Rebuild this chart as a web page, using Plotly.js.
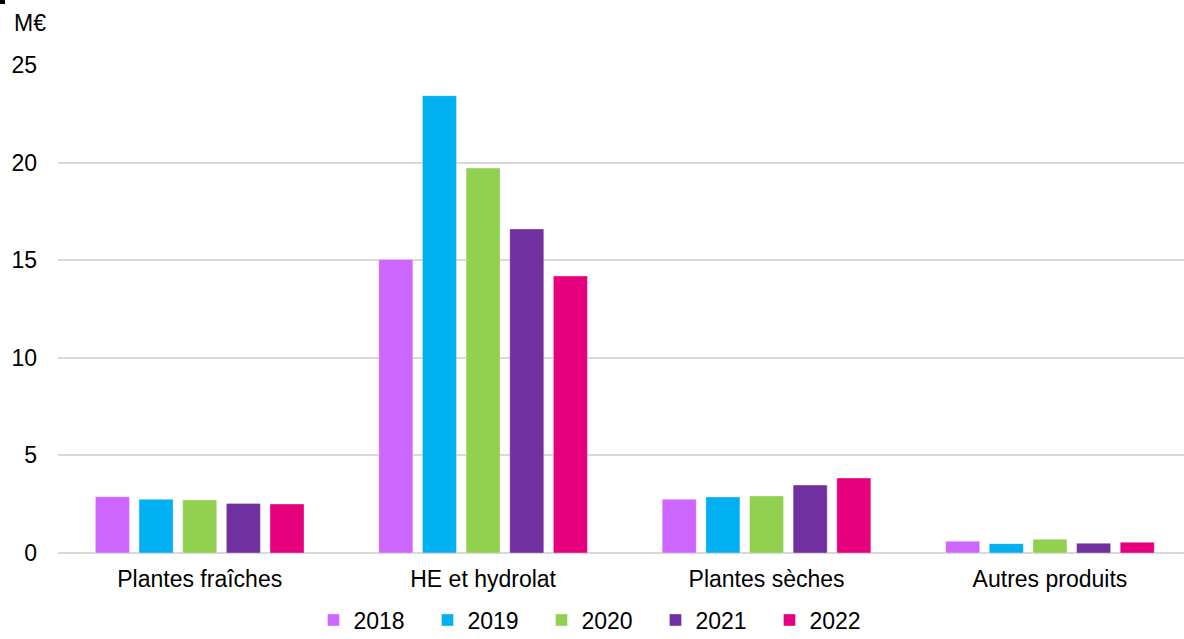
<!DOCTYPE html>
<html>
<head>
<meta charset="utf-8">
<script src="https://cdn.plot.ly/plotly-3.0.1.min.js"></script>
<style>html,body{margin:0;padding:0;background:#fff;}#chart{width:1184px;height:639px;}</style>
</head>
<body>
<div id="chart"></div>
<script>
const categories = ["Plantes fraîches", "HE et hydrolat", "Plantes sèches", "Autres produits"];
const years = ["2018", "2019", "2020", "2021", "2022"];
const v2018 = [2.88, 15.04, 2.75, 0.60];
const v2019 = [2.75, 23.43, 2.87, 0.48];
const v2020 = [2.72, 19.72, 2.92, 0.70];
const v2021 = [2.54, 16.60, 3.48, 0.50];
const v2022 = [2.51, 14.19, 3.84, 0.55];
const yTicks = [0, 5, 10, 15, 20, 25];
const unitLabel = "M€";

const seriesValues = [v2018, v2019, v2020, v2021, v2022];
const colors = ["#CC66FF", "#00B0F0", "#92D050", "#7030A0", "#E6007E"];

const traces = years.map((y, i) => ({
  type: "bar",
  name: y,
  x: categories,
  y: seriesValues[i],
  marker: {color: colors[i], line: {color: "rgba(255,255,255,0.35)", width: 1}},
  hoverinfo: "x+y+name"
}));

const font = {family: "Liberation Sans, Arial, sans-serif", size: 23, color: "#000"};

const layout = {
  width: 1184, height: 639,
  margin: {l: 58, r: 0, t: 65, b: 86},
  paper_bgcolor: "#fff", plot_bgcolor: "#fff",
  font: font,
  barmode: "group",
  bargap: 0.23,
  bargroupgap: 0.22,
  showlegend: true,
  legend: {
    orientation: "h",
    x: 0.48, xanchor: "center",
    yref: "container",
    y: 1 - 620 / 639, yanchor: "middle",
    font: font,
    entrywidth: 69,
    entrywidthmode: "pixels",
    traceorder: "normal",
    bgcolor: "rgba(0,0,0,0)"
  },
  xaxis: {
    type: "category",
    range: [-0.5, 3.473],
    showgrid: false,
    showline: false,
    ticks: "",
    tickfont: font,
    ticklabelstandoff: 10,
    fixedrange: true
  },
  yaxis: {
    range: [0, 25],
    tickvals: yTicks,
    ticktext: yTicks.map(String),
    showgrid: true,
    gridcolor: "#d9d9d9",
    gridwidth: 2,
    zeroline: true,
    zerolinecolor: "#d9d9d9",
    zerolinewidth: 2.5,
    showline: false,
    ticks: "",
    tickfont: font,
    ticklabelstandoff: 20,
    fixedrange: true
  },
  annotations: [{
    text: unitLabel,
    xref: "paper", yref: "paper",
    x: -46 / 1126, xanchor: "left",
    y: (553 - 23) / 488, yanchor: "middle",
    showarrow: false,
    font: font
  }],
  shapes: [{
    type: "rect", xref: "paper", yref: "paper",
    x0: -58 / 1126, x1: -53 / 1126,
    y0: 549 / 488, y1: 553 / 488,
    fillcolor: "#000", line: {width: 0}
  }]
};

Plotly.newPlot("chart", traces, layout, {displayModeBar: false, staticPlot: true});
</script>
</body>
</html>
